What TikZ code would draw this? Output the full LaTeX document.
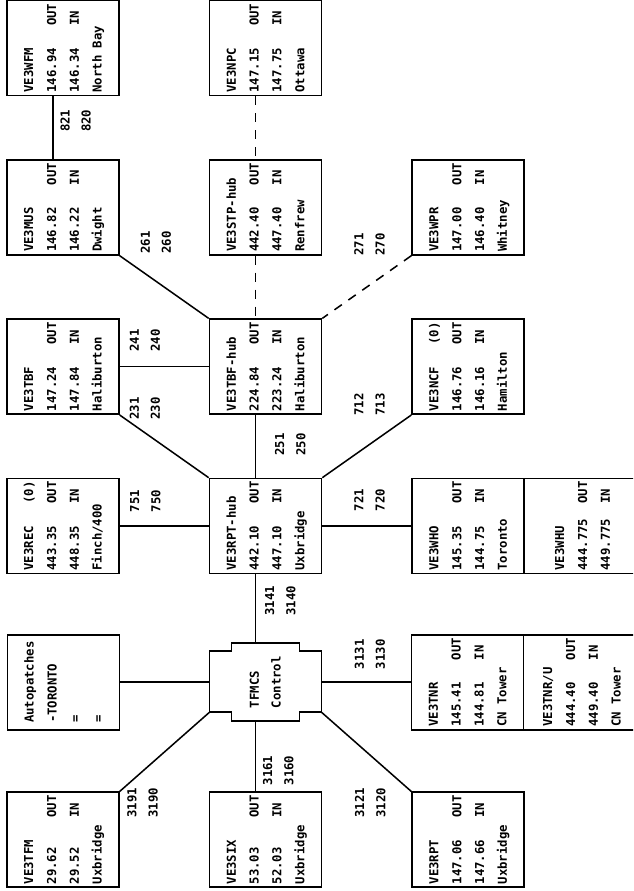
\documentclass[tikz,border=0pt]{standalone}
\usepackage{fontspec}
\usepackage{graphicx}
\usepackage{tikz}
\usetikzlibrary{positioning}
\newfontfamily\dotfont{DejaVu Sans Mono}
\newcommand{\outcol}[1]{\makebox[2.0cm][l]{#1}}
\newcommand{\repbox}[4]{\rotatebox{90}{\begin{tabular}{@{}l@{}}#1\\\outcol{#2}OUT\\\outcol{#3}IN\\#4\end{tabular}}}
\newcommand{\pair}[2]{\rotatebox{90}{\begin{tabular}{@{}l@{}}#1\\#2\end{tabular}}}
\tikzset{
repeater/.style={draw,line width=1.4pt,inner sep=0pt,minimum width=3.36cm,minimum height=2.85cm,font=\dotfont\bfseries\fontsize{10.5}{19.5}\selectfont},
widebox/.style={repeater,minimum width=3.5cm},
ctrl/.style={inner sep=0pt,minimum width=3.36cm,minimum height=2.34cm,font=\dotfont\bfseries\fontsize{10.5}{18.5}\selectfont},
chan/.style={inner sep=0pt,font=\dotfont\bfseries\fontsize{10.5}{18}\selectfont},
link/.style={line width=1.3pt},
dashedlink/.style={line width=1.3pt,dash pattern=on 2.7mm off 2.4mm}
}
\begin{document}
\begin{tikzpicture}[node distance=1.88cm and 2.67cm]
\useasboundingbox (-7.965,-10.95) rectangle (11.025,15.78);
\clip (-7.965,-10.95) rectangle (11.025,15.78);

% hub column
\node[repeater] (rpthub) {\repbox{VE3RPT-hub}{442.10}{447.10}{Uxbridge}};
\node[repeater,above=of rpthub] (tbfhub) {\repbox{VE3TBF-hub}{224.84}{223.24}{Haliburton}};
\node[repeater,above=of tbfhub] (stphub) {\repbox{VE3STP-hub}{442.40}{447.40}{Renfrew}};
\node[repeater,above=of stphub] (npc) {\repbox{VE3NPC}{147.15}{147.75}{Ottawa}};

% left column
\node[repeater,left=of rpthub] (rec) {\repbox{\outcol{VE3REC}(0)}{443.35}{448.35}{Finch/400}};
\node[repeater,left=of tbfhub] (tbf) {\repbox{VE3TBF}{147.24}{147.84}{Haliburton}};
\node[repeater,left=of stphub] (mus) {\repbox{VE3MUS}{146.82}{146.22}{Dwight}};
\node[repeater,left=of npc] (wfm) {\repbox{VE3WFM}{146.94}{146.34}{North Bay}};

% right column
\node[repeater,right=of rpthub] (who) {\repbox{VE3WHO}{145.35}{144.75}{Toronto}};
\node[repeater,right=of tbfhub] (ncf) {\repbox{\outcol{VE3NCF}(0)}{146.76}{146.16}{Hamilton}};
\node[repeater,right=of stphub] (wpr) {\repbox{VE3WPR}{147.00}{146.40}{Whitney}};
\node[widebox,right=-1.4pt of who] (whu) {\repbox{VE3WHU}{444.775}{449.775}{}};

% control and links below it
\node[ctrl,below=2.06cm of rpthub] (tfmcs) {\pair{TFMCS}{Control}};
\node[repeater,left=of tfmcs] (auto) {\rotatebox{90}{\begin{tabular}{@{}l@{}}Autopatches\\-TORONTO\\=\\=\end{tabular}}};
\node[repeater,right=of tfmcs] (tnr) {\repbox{VE3TNR}{145.41}{144.81}{CN Tower}};
\node[widebox,right=-1.4pt of tnr] (tnru) {\repbox{VE3TNR/U}{444.40}{449.40}{CN Tower}};
\node[repeater,below=2.1cm of tfmcs] (six) {\repbox{VE3SIX}{53.03}{52.03}{Uxbridge}};
\node[repeater,left=of six] (tfm) {\repbox{VE3TFM}{29.62}{29.52}{Uxbridge}};
\node[repeater,right=of six] (rptu) {\repbox{VE3RPT}{147.06}{147.66}{Uxbridge}};

% cross outline of the controller
\draw[link] ([xshift=6.6mm]tfmcs.north west) -- ++(20.4mm,0) -- ++(0,-2.4mm) -- ++(6.6mm,0) -- ++(0,-18.3mm) -- ++(-6.6mm,0) -- ++(0,-2.7mm) -- ++(-20.4mm,0) -- ++(0,2.7mm) -- ++(-6.6mm,0) -- ++(0,18.3mm) -- ++(6.6mm,0) -- cycle;

% upper links
\draw[link] ([xshift=-3mm]wfm.south) -- node[chan,xshift=6.9mm,yshift=2.1mm]{\pair{821}{820}} ([xshift=-3mm]mus.north);
\draw[link] (mus.south east) -- node[chan,xshift=-2.4mm,yshift=13.4mm]{\pair{261}{260}} (tbfhub.north west);
\draw[dashedlink] ([xshift=-3mm]npc.south) -- ([xshift=-3mm]stphub.north);
\draw[dashedlink] ([xshift=-3mm]stphub.south) -- ([xshift=-3mm]tbfhub.north);
\draw[dashedlink] (wpr.south west) -- node[chan,xshift=0.9mm,yshift=12.8mm]{\pair{271}{270}} (tbfhub.north east);
\draw[link] (tbf) -- node[chan,xshift=-5.7mm,yshift=7.8mm]{\pair{241}{240}} (tbfhub);
\draw[link] (tbf.south east) -- node[chan,xshift=-5.7mm,yshift=11.4mm]{\pair{231}{230}} (rpthub.north west);
\draw[link] ([xshift=-3mm]tbfhub.south) -- node[chan,xshift=10.5mm,yshift=0.6mm]{\pair{251}{250}} ([xshift=-3mm]rpthub.north);
\draw[link] (rec) -- node[chan,xshift=-5.6mm,yshift=7.5mm]{\pair{751}{750}} (rpthub);
\draw[link] (rpthub.north east) -- node[chan,xshift=0.9mm,yshift=12.5mm]{\pair{712}{713}} (ncf.south west);
\draw[link] (rpthub) -- node[chan,xshift=0.9mm,yshift=7.8mm]{\pair{721}{720}} (who);

% lower links
\draw[link] ([xshift=-3mm]rpthub.south) -- node[chan,xshift=7.5mm,yshift=2.3mm]{\pair{3141}{3140}} ([xshift=-3mm]tfmcs.north);
\draw[link] (auto) -- (tfmcs);
\draw[link] (tfmcs) -- node[chan,xshift=1.2mm,yshift=8.4mm]{\pair{3131}{3130}} (tnr);
\draw[link] ([yshift=2.7mm]tfmcs.south east) -- node[chan,xshift=1.2mm,yshift=-15.3mm]{\pair{3121}{3120}} (rptu.north west);
\draw[link] ([yshift=2.7mm]tfmcs.south west) -- node[chan,xshift=-6.5mm,yshift=-15.2mm]{\pair{3191}{3190}} (tfm.north east);
\draw[link] ([xshift=-3mm]tfmcs.south) -- node[chan,xshift=6.9mm,yshift=-4.2mm]{\pair{3161}{3160}} ([xshift=-3mm]six.north);
\end{tikzpicture}
\end{document}
